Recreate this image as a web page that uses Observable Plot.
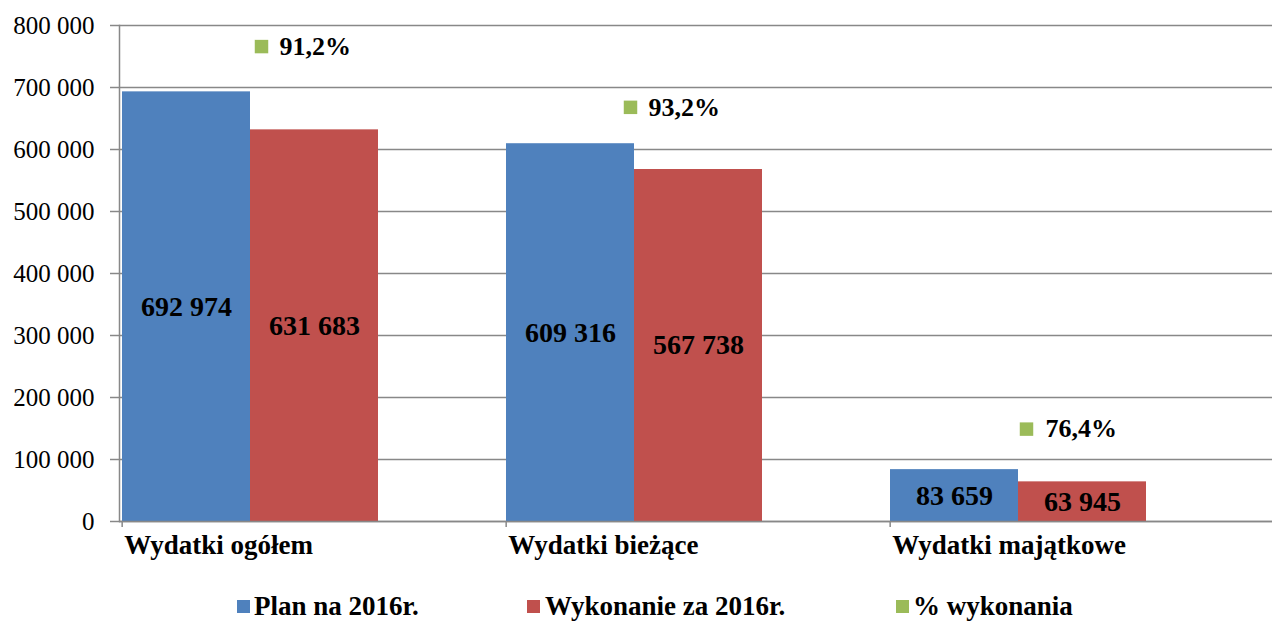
<!DOCTYPE html>
<html><head><meta charset="utf-8">
<script src="https://cdn.jsdelivr.net/npm/d3@7"></script>
<script src="https://cdn.jsdelivr.net/npm/@observablehq/plot@0.6"></script>
</head><body style="margin:0;background:#fff;font-family:'Liberation Serif'">
<div id="chart"></div>
<div id="legend" style="position:relative;height:41px;width:1274px;font-family:'Liberation Serif'"></div>
<script>
// ---- data ----
const categories = ["Wydatki ogółem", "Wydatki bieżące", "Wydatki majątkowe"];
const seriesNames = ["Plan na 2016r.", "Wykonanie za 2016r.", "% wykonania"];
const plan = [692974, 609316, 83659];
const wykonanie = [631683, 567738, 63945];
const pctWykonania = [91.2, 93.2, 76.4];
const pctLabelY = [766000, 668000, 149000];
const yTicks = [0, 100000, 200000, 300000, 400000, 500000, 600000, 700000, 800000];

// ---- style / layout ----
const FONT = "'Liberation Serif'";
const colors = ["#4F81BD", "#C0504D", "#9BBB59"];
const gray = "#888888";
const bandW = (1277 - 119) / 3;
const sqDx = [-53, -68, -56];
const txDx = [-35, -50, -37];

const fmt = v => d3.format(",")(v).replace(/,/g, " ");
const fmtPct = p => d3.format(".1f")(p).replace(".", ",") + "%";

const keys = categories.flatMap(c => [c + "|0", c + "|1", c + "|2"]);
const rows = categories.flatMap((c, i) => [
  {key: c + "|0", series: seriesNames[0], value: plan[i]},
  {key: c + "|1", series: seriesNames[1], value: wykonanie[i]}
]);
const pctRows = categories.map((c, i) => ({key: c + "|1", y: pctLabelY[i], label: fmtPct(pctWykonania[i])}));

const chart = Plot.plot({
  width: 1274, height: 580,
  marginLeft: 119, marginRight: 2, marginTop: 25, marginBottom: 59,
  style: {fontFamily: FONT, color: "black", background: "white"},
  x: {type: "band", domain: keys, range: [119, 1277], padding: 0},
  y: {domain: [0, 800000]},
  color: {domain: seriesNames.slice(0, 2), range: colors.slice(0, 2)},
  marks: [
    Plot.gridY(yTicks, {stroke: gray, strokeOpacity: 1, strokeWidth: 1.5}),
    Plot.barY(rows, {x: "key", y: "value", fill: "series", inset: 0}),
    Plot.ruleY([0], {stroke: gray, strokeWidth: 1.5}),
    Plot.frame({anchor: "left", stroke: gray, strokeWidth: 1.5}),
    Plot.axisY(yTicks, {tickFormat: fmt, tickSize: 9, tickPadding: 16, fontSize: 25, fontFamily: FONT, stroke: gray, strokeWidth: 1.5, label: null}),
    Plot.axisX(categories.map(c => c + "|0"), {tickSize: 6, tickFormat: () => "", dx: -bandW / 6, stroke: gray, strokeWidth: 1.5, label: null}),
    Plot.text(rows, {x: "key", y: d => d.value / 2, text: d => fmt(d.value), fontSize: 28, fontFamily: FONT, fontWeight: "bold", fill: "black"}),
    Plot.text(categories, {x: c => c + "|0", frameAnchor: "bottom", text: c => c, dy: 32, dx: -bandW / 6 + 2, textAnchor: "start", fontSize: 27, fontFamily: FONT, fontWeight: "bold", fill: "black"}),
    ...pctRows.flatMap((d, i) => [
      Plot.dot([d], {x: "key", y: "y", symbol: "square", r: 7.6, fill: colors[2], stroke: null, dx: sqDx[i]}),
      Plot.text([d], {x: "key", y: "y", text: "label", textAnchor: "start", dx: txDx[i], fontSize: 26, fontFamily: FONT, fontWeight: "bold", fill: "black"})
    ])
  ]
});
document.getElementById("chart").appendChild(chart);

// legend
const legend = document.getElementById("legend");
const legendPos = [[237, 254], [527, 545], [896, 913]];
seriesNames.forEach((s, i) => {
  const sw = document.createElement("div");
  Object.assign(sw.style, {position: "absolute", top: "20px", left: legendPos[i][0] + "px", width: "13px", height: "13px", background: colors[i]});
  const t = document.createElement("div");
  Object.assign(t.style, {position: "absolute", top: "13px", left: legendPos[i][1] + "px", fontFamily: FONT, fontSize: "27px", fontWeight: "bold", lineHeight: "1", whiteSpace: "nowrap", color: "#000"});
  t.textContent = s;
  legend.appendChild(sw); legend.appendChild(t);
});
</script>
</body></html>
